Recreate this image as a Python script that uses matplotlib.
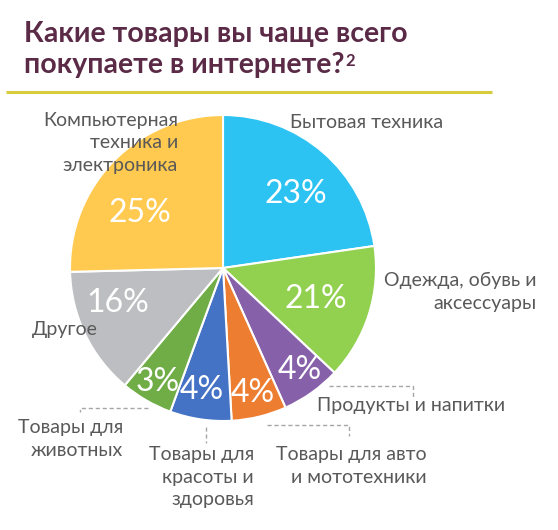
import matplotlib
matplotlib.use('Agg')
import matplotlib.pyplot as plt

# categories clockwise from the top
categories = ['Бытовая техника', 'Одежда, обувь и\nаксессуары', 'Продукты и напитки',
              'Товары для авто\nи мототехники', 'Товары для\nкрасоты и\nздоровья',
              'Товары для\nживотных', 'Другое', 'Компьютерная\nтехника и\nэлектроника']
# wedge sizes as drawn (share of the circle, %)
shares = [22.7, 14.3, 6.3, 5.8, 6.5, 5.5, 13.5, 25.4]
pct_labels = ['23%', '21%', '4%', '4%', '4%', '3%', '16%', '25%']
colors = ['#2CC3F3', '#92D050', '#8660A9', '#ED7D31', '#4472C4', '#70AD47', '#BDBEC1', '#FFCA4F']

W, H = 558, 530
fig = plt.figure(figsize=(W / 100, H / 100), dpi=100)
ax = fig.add_axes([0, 0, 1, 1])
ax.set_xlim(0, W)
ax.set_ylim(H, 0)
ax.set_aspect('equal')
ax.axis('off')

# y axis is flipped, so counterclock=True runs clockwise on screen
ax.pie(shares, colors=colors, center=(223, 268), radius=153, startangle=-90,
       counterclock=True, wedgeprops=dict(edgecolor='white', linewidth=1.5))
ax.set_xlim(0, W)
ax.set_ylim(H, 0)

font = 'Lato'
txt_col = '#595959'
title_col = '#5A2A46'

# title
ttl = dict(fontsize=20.5, fontweight='bold', color=title_col, family=font,
           ha='left', va='center')
ax.text(24, 34, 'Какие товары вы чаще всего', **ttl)
t2 = ax.text(24, 65, 'покупаете в интернете?', **ttl)
ax.annotate('2', xy=(1, 1), xycoords=t2, xytext=(0.5, -1), textcoords='offset points',
            fontsize=12, fontweight='bold', color=title_col, family=font,
            ha='left', va='top')
ax.plot([6, 492], [92, 92], color='#D6CC3C', lw=2.2, solid_capstyle='butt')

# percentages inside the wedges
pct_pos = [(296, 194), (316, 299), (300, 370), (253, 393),
           (202, 390), (158, 382), (118, 303), (140, 213)]
for (x, y), t in zip(pct_pos, pct_labels):
    ax.text(x, y, t, fontsize=23, color='white', family=font,
            ha='center', va='center')

# category labels
lab = dict(fontsize=14, color=txt_col, family=font, linespacing=1.4)
ax.text(290, 122, categories[0], ha='left', va='center', **lab)
ax.text(537, 292, categories[1], ha='right', va='center', **lab)
ax.text(317, 406, categories[2], ha='left', va='center', **lab)
ax.text(427, 466, categories[3], ha='right', va='center', **lab)
ax.text(254, 477, categories[4], ha='right', va='center', **lab)
ax.text(123, 439, categories[5], ha='right', va='center', **lab)
ax.text(32, 329, categories[6], ha='left', va='center', **lab)
ax.text(178, 143, categories[7], ha='right', va='center', **lab)

# dashed leader lines
lead = dict(color='#A6A6A6', lw=1, ls=(0, (3, 2)))
ax.plot([329, 413, 413], [386, 386, 397], **lead)
ax.plot([267, 349, 349], [425, 425, 436], **lead)
ax.plot([206, 206], [427, 443], **lead)
ax.plot([148, 80, 80], [408, 408, 412], **lead)

fig.savefig('out.png', dpi=100)
